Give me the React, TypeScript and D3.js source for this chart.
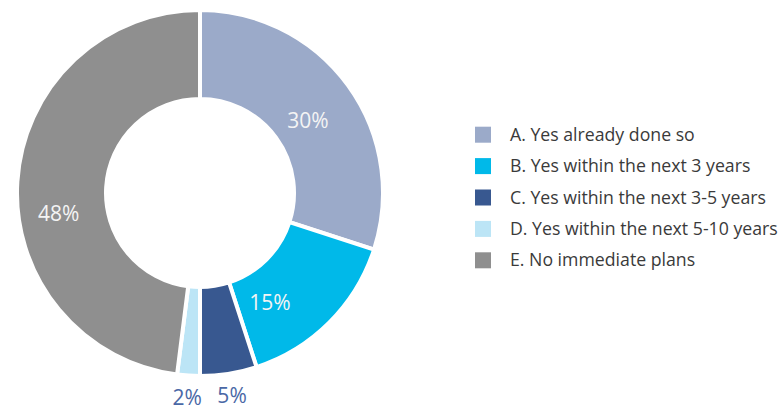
import React from "react";
import * as d3 from "d3";

const categories = [
  "A. Yes already done so",
  "B. Yes within the next 3 years",
  "C. Yes within the next 3-5 years",
  "D. Yes within the next 5-10 years",
  "E. No immediate plans",
];
const values = [30, 15, 5, 2, 48];
const colors = ["#9baac9", "#00b9e9", "#385890", "#bce5f6", "#8f8f8f"];

const W = 781;
const H = 410;
const cx = 200;
const cy = 193;
const rOuter = 183;
const rInner = 94;

export default function App() {
  const pie = d3.pie<number>().sort(null).value((d) => d)(values);
  const arc = d3.arc<d3.PieArcDatum<number>>().innerRadius(rInner).outerRadius(rOuter);
  const total = d3.sum(values);

  // label placement: inside for big slices, outside for small
  const labelPos = (d: d3.PieArcDatum<number>) => {
    const share = d.value / total;
    const mid = (d.startAngle + d.endAngle) / 2;
    if (share < 0.1) {
      const r = rOuter + 22;
      return { x: Math.sin(mid) * r, y: -Math.cos(mid) * r, inside: false };
    }
    const a = d.startAngle + (d.endAngle - d.startAngle) * (share > 0.4 ? 0.43 : share > 0.2 ? 0.52 : 0.73);
    const r = share > 0.4 ? 143 : 130;
    return { x: Math.sin(a) * r, y: -Math.cos(a) * r, inside: true };
  };

  const legendY = d3.scaleBand<number>().domain(d3.range(categories.length)).range([119, 276]);

  return (
    <svg width={W} height={H} style={{ position: "absolute", left: 0, top: 0, background: "#fff" }}
      fontFamily="'Open Sans', sans-serif">
      <g transform={`translate(${cx},${cy})`}>
        {pie.map((d, i) => (
          <path key={i} d={arc(d) || ""} fill={colors[i]} stroke="#fff" strokeWidth={4} strokeLinejoin="miter" />
        ))}
        {pie.map((d, i) => {
          const p = labelPos(d);
          return (
            <text key={i} x={p.x} y={p.y} dy="0.35em" textAnchor="middle" fontSize={21}
              fill={p.inside ? "#f4f4f4" : "#4a68a6"}>
              {values[i]}%
            </text>
          );
        })}
      </g>
      {categories.map((c, i) => {
        const y = (legendY(i) || 0) + legendY.bandwidth() / 2;
        return (
          <g key={i}>
            <rect x={475} y={y - 8} width={16} height={16} fill={colors[i]} />
            <text x={510} y={y} dy="0.35em" fontSize={17.7} fill="#3a3a3a">{c}</text>
          </g>
        );
      })}
    </svg>
  );
}
